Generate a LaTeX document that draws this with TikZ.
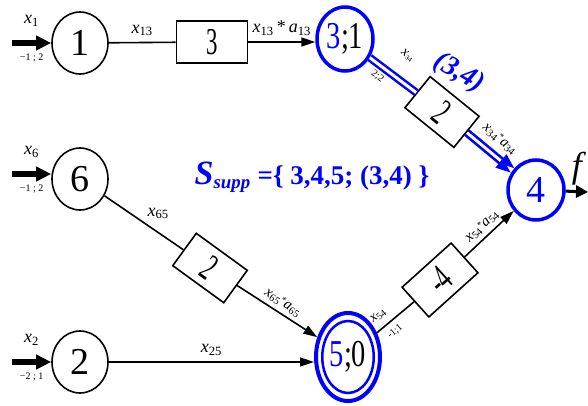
\documentclass[tikz,border=0pt]{standalone}
\usepackage{fontspec}
\setmainfont{Liberation Serif}
\usepackage{graphicx}
\usetikzlibrary{arrows.meta,shapes.geometric}
\newcommand{\narrow}[2][0.6]{\scalebox{#1}[1]{#2}}
\newcommand{\flowvar}[2]{\textit{#1}\textsubscript{#2}}
\newcommand{\smallstar}{\raisebox{3pt}{\fontsize{9}{9}\selectfont *}}

\begin{document}
\begin{tikzpicture}[x=1pt, y=-1pt,
    vertex/.style={ellipse, draw, line width=1.6pt, minimum width=56pt, minimum height=62pt, inner sep=0pt, font=\fontsize{38}{38}\selectfont},
    chosen/.style={vertex, draw=blue, line width=3.5pt},
    gain/.style={draw, line width=1.6pt, minimum width=63pt, minimum height=40pt, inner sep=0pt, font=\fontsize{38}{38}\selectfont},
    plain/.style={line width=1.6pt},
    flow/.style={line width=1.6pt, -{Triangle[length=14pt,width=9pt]}},
    feed/.style={line width=5.5pt, -{Triangle[length=15pt,width=14pt]}},
    hot/.style={draw=blue, line width=2.5pt, double=white, double distance=3pt},
    hotflow/.style={blue, line width=2.5pt, -{Triangle[length=15pt,width=11pt]}},
    lbl/.style={font=\fontsize{18}{18}\selectfont, inner sep=1pt},
    tiny/.style={font=\fontsize{10}{10}\selectfont, inner sep=1pt}]
  \useasboundingbox (0,0) rectangle (588,406);
  % nodes
  \node[vertex] (n1) at (80,43) {1};
  \node[vertex] (n6) at (80,179) {6};
  \node[vertex] (n2) at (80,362) {2};
  \node[gain, minimum width=71pt, minimum height=42pt] (b13) at (212,42) {\narrow{3}};
  \node[chosen, minimum height=64pt] (n3) at (345,39) {\narrow[0.75]{\textcolor{blue}{3};1}};
  \node[gain, rotate=-39] (b34) at (442,112) {\narrow{2}};
  \node[chosen, minimum height=60pt] (n4) at (536,190) {\textcolor{blue}{4}};
  \node[gain, rotate=-36] (b65) at (210,268) {\narrow{2}};
  \node[chosen, line width=2.5pt, minimum width=50pt, minimum height=72pt] (n5) at (348,357) {\narrow[0.75]{\textcolor{blue}{5};0}};
  \node[ellipse, draw=blue, line width=4pt, minimum width=64pt, minimum height=88pt] (n5o) at (348,357) {};
  \node[gain, minimum width=66pt, rotate=42] (b54) at (440,280) {\narrow{-4}};
  \coordinate (i1) at (12,43);
  \coordinate (i6) at (12,174);
  \coordinate (i2) at (12,362);
  \coordinate (out) at (588,192);
  % inputs
  \draw[feed] (i1) -- node[lbl, above=13pt]{\flowvar{x}{1}} node[tiny, below=7pt]{−1 ; 2} (n1);
  \draw[feed] (i6) -- node[lbl, above=13pt]{\flowvar{x}{6}} node[tiny, below=7pt]{−1 ; 2} (i6 -| n6.west);
  \draw[feed] (i2) -- node[lbl, above=13pt]{\flowvar{x}{2}} node[tiny, below=7pt]{−2 ; 1} (n2);
  % top row
  \draw[plain] (n1) -- node[lbl, above=5pt]{\flowvar{x}{13}} (b13);
  \draw[flow] (b13) -- node[lbl, above=5pt]{\flowvar{x}{13}\,*\,\flowvar{a}{13}} (b13 -| n3.west);
  \draw[hot] (n3) -- node[tiny, pos=0.5, sloped, above=18pt]{\flowvar{\fontsize{14}{14}\selectfont x}{34}} node[tiny, pos=0.3, sloped, below=4pt]{2;2} (b34);
  \foreach \s in {-1,1}
    \draw[hotflow, transform canvas={shift={(\s*1.8pt,\s*2.2pt)}}] (b34) -- (n4);
  \path (b34) -- node[lbl, font=\fontsize{15}{15}\selectfont, sloped, above=9pt]{\flowvar{x}{34}\smallstar\flowvar{a}{34}} (n4);
  \node[text=blue, font=\bfseries\itshape\fontsize{28}{28}\selectfont, rotate=-30] (pair) at (459,73) {(3,4)};
  % middle
  \draw[plain] (n6) -- node[lbl, above right=2pt]{\flowvar{x}{65}} (b65);
  \draw[flow] (b65) -- node[lbl, font=\fontsize{15}{15}\selectfont, sloped, above=3pt]{\flowvar{x}{65}\smallstar\flowvar{a}{65}} (n5o);
  \node[text=blue, font=\bfseries\fontsize{27}{27}\selectfont] (supp) at (312,177)
    {{\itshape\fontsize{34}{34}\selectfont S}\textsubscript{\itshape supp} =\{ 3,4,5; (3,4) \}};
  % bottom row
  \draw[flow] (n2) -- node[lbl, above=5pt]{\flowvar{x}{25}} (n2 -| n5o.west);
  \draw[plain] (n5o) -- node[lbl, font=\fontsize{14}{14}\selectfont, pos=0.25, sloped, above=6pt]{\flowvar{x}{54}} node[tiny, pos=0.3, sloped, below=5pt]{-1;1} (b54);
  \draw[flow] (b54) -- node[lbl, font=\fontsize{15}{15}\selectfont, sloped, above=3pt]{\flowvar{x}{54}\smallstar\flowvar{a}{54}} (n4);
  % output
  \draw[line width=3pt, -{Triangle[length=12pt,width=12pt]}] (n4) -- node[font=\itshape\fontsize{36}{36}\selectfont, above=2pt]{f} (out);
\end{tikzpicture}
\end{document}
